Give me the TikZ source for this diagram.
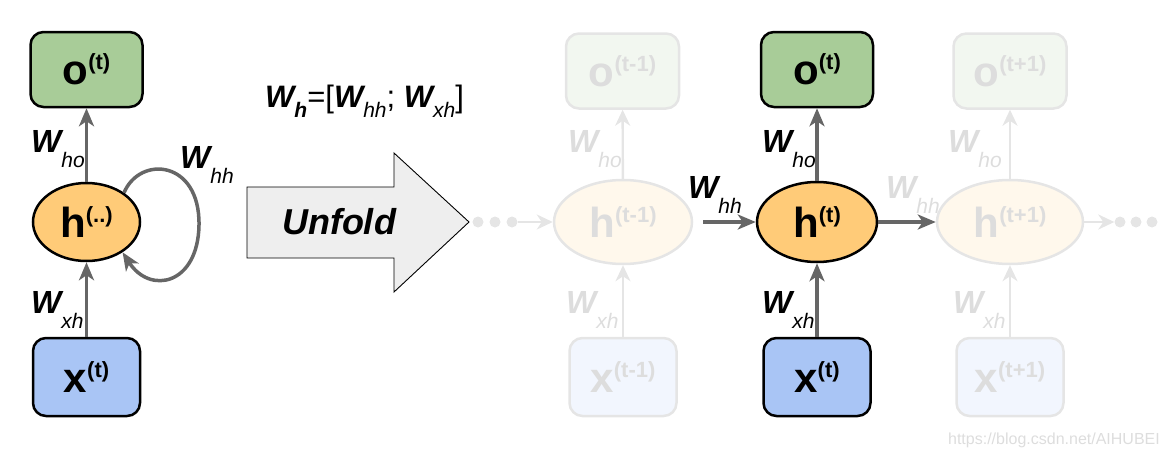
\documentclass[tikz,border=0pt]{standalone}
\usepackage{fontspec}
\setmainfont{Liberation Sans}
\usetikzlibrary{shapes.geometric,arrows.meta}
\definecolor{dg}{HTML}{666666}
\definecolor{ofill}{HTML}{A8CC98}
\definecolor{hfill}{HTML}{FFCB78}
\definecolor{xfill}{HTML}{A9C5F5}
\definecolor{fofill}{HTML}{F2F7F0}
\definecolor{fhfill}{HTML}{FFF8EC}
\definecolor{fxfill}{HTML}{F2F6FE}
\definecolor{fline}{HTML}{E5E5E5}
\definecolor{ftext}{HTML}{DDDDDD}
\definecolor{arrfill}{HTML}{EEEEEE}
\newcommand\mlbl[2]{{\fontsize{42}{42}\selectfont\bfseries #1}\raisebox{15pt}{\fontsize{22}{22}\selectfont\bfseries #2}}
\newcommand\Wl[1]{{\fontsize{32}{32}\selectfont\bfseries\itshape W}\raisebox{-15pt}{\fontsize{21}{21}\selectfont\itshape #1}}
\newcommand\Wf[1]{{\fontsize{31}{31}\selectfont\bfseries\itshape W}\raisebox{-10pt}{\fontsize{21}{21}\selectfont\itshape #1}}
\tikzset{
  obox/.style={draw=black, line width=2.5pt, fill=ofill, rounded corners=13pt, minimum width=112pt, minimum height=75pt, inner sep=0pt},
  xbox/.style={draw=black, line width=2.5pt, fill=xfill, rounded corners=13pt, minimum width=107pt, minimum height=78pt, inner sep=0pt},
  hell/.style={draw=black, line width=2.5pt, fill=hfill, ellipse, inner sep=0pt},
  fobox/.style={draw=fline, line width=2.5pt, fill=fofill, text=ftext, rounded corners=13pt, minimum width=113pt, minimum height=75pt, inner sep=0pt},
  fxbox/.style={draw=fline, line width=2.5pt, fill=fxfill, text=ftext, rounded corners=13pt, minimum width=107pt, minimum height=78pt, inner sep=0pt},
  fhell/.style={draw=fline, line width=2.5pt, fill=fhfill, text=ftext, ellipse, inner sep=0pt},
  darr/.style={draw=dg, line width=3.5pt, -{Stealth[length=18pt,width=15pt,inset=5pt]}},
  farr/.style={draw=fline, line width=2.4pt, -{Stealth[length=16pt,width=15pt,inset=5pt]}},
  wlbl/.style={anchor=base west, inner sep=0pt},
  fwlbl/.style={anchor=base west, inner sep=0pt, text=ftext},
  fdot/.style={circle, fill=fline, minimum size=11pt, inner sep=0pt},
}
\begin{document}
\begin{tikzpicture}[x=1pt,y=-1pt]
\useasboundingbox (0,0) rectangle (1164,455);

% ---------- folded RNN ----------
\node[obox] (o0) at (86.5,69.5) {\mlbl{o}{(t)}};
\node[hell, minimum width=107pt, minimum height=78pt] (h0) at (86.5,222) {\mlbl{h}{(..)}};
\node[xbox] (x0) at (86.5,377) {\mlbl{x}{(t)}};
\draw[darr] (h0) -- (o0);
\draw[darr] (x0) -- (h0);
\draw[darr] (h0.38) .. controls (140,155) and (200,160) .. (199,225) .. controls (198,285) and (150,295) .. (h0.-40);
\node[wlbl] (lho0) at (31,152) {\Wl{ho}};
\node[wlbl] (lxh0) at (31,313) {\Wl{xh}};
\node[wlbl] (lhh0) at (180,168) {\Wl{hh}};

% ---------- formula ----------
\node[anchor=base west, inner sep=0pt] (form) at (265,107) {\Wf{\bfseries h}{\fontsize{31}{31}\selectfont =[}\Wf{hh}{\fontsize{31}{31}\selectfont ; }\Wf{xh}{\fontsize{31}{31}\selectfont ]}};

% ---------- unfold arrow ----------
\draw[line width=0.9pt, fill=arrfill] (247,187) -- (394,187) -- (394,153) -- (469,222) -- (394,292) -- (394,258) -- (247,258) -- cycle;
\node (unf) at (339,222) {\fontsize{36}{36}\selectfont\bfseries\itshape Unfold};

% ---------- unfolded ----------
\node[fdot] (dl1) at (478,222) {};
\node[fdot] (dl2) at (495,222) {};
\node[fdot] (dl3) at (512,222) {};
\node[fdot] (dr1) at (1120,222) {};
\node[fdot] (dr2) at (1136,222) {};
\node[fdot] (dr3) at (1152,222) {};

\node[fobox] (o1) at (622.5,71) {\mlbl{o}{(t-1)}};
\node[fhell, minimum width=138pt, minimum height=84pt] (h1) at (623,222) {\mlbl{h}{(t-1)}};
\node[fxbox] (x1) at (623,377) {\mlbl{x}{(t-1)}};

\node[fobox] (o3) at (1010,71) {\mlbl{o}{(t+1)}};
\node[fhell, minimum width=146pt, minimum height=84pt] (h3) at (1010,222) {\mlbl{h}{(t+1)}};
\node[fxbox] (x3) at (1010,377) {\mlbl{x}{(t+1)}};

\node[obox] (o2) at (817,69.5) {\mlbl{o}{(t)}};
\node[hell, minimum width=120pt, minimum height=80pt] (h2) at (817,222) {\mlbl{h}{(t)}};
\node[xbox] (x2) at (817,377) {\mlbl{x}{(t)}};

\draw[farr] (dl3) -- (h1);
\draw[farr] (h3) -- (dr1);
\draw[farr] (h1) -- (o1);
\draw[farr] (x1) -- (h1);
\draw[farr] (h3) -- (o3);
\draw[farr] (x3) -- (h3);

\draw[darr] (h2) -- (o2);
\draw[darr] (x2) -- (h2);
\draw[darr, shorten <=10pt] (h1) -- (h2);
\draw[darr] (h2) -- (h3);

\node[fwlbl] (lho1) at (568,152) {\Wl{ho}};
\node[fwlbl] (lxh1) at (566,313) {\Wl{xh}};
\node[wlbl] (lho2) at (762,152) {\Wl{ho}};
\node[wlbl] (lxh2) at (762,313) {\Wl{xh}};
\node[fwlbl] (lho3) at (948,152) {\Wl{ho}};
\node[fwlbl] (lxh3) at (953,313) {\Wl{xh}};
\node[wlbl] (lhh1) at (688,198) {\Wl{hh}};
\node[fwlbl] (lhh2) at (886,198) {\Wl{hh}};

\node[anchor=base east, inner sep=0pt, text=ftext] (wm) at (1160,444) {\fontsize{16}{16}\selectfont https://blog.csdn.net/AIHUBEI};
\end{tikzpicture}
\end{document}
